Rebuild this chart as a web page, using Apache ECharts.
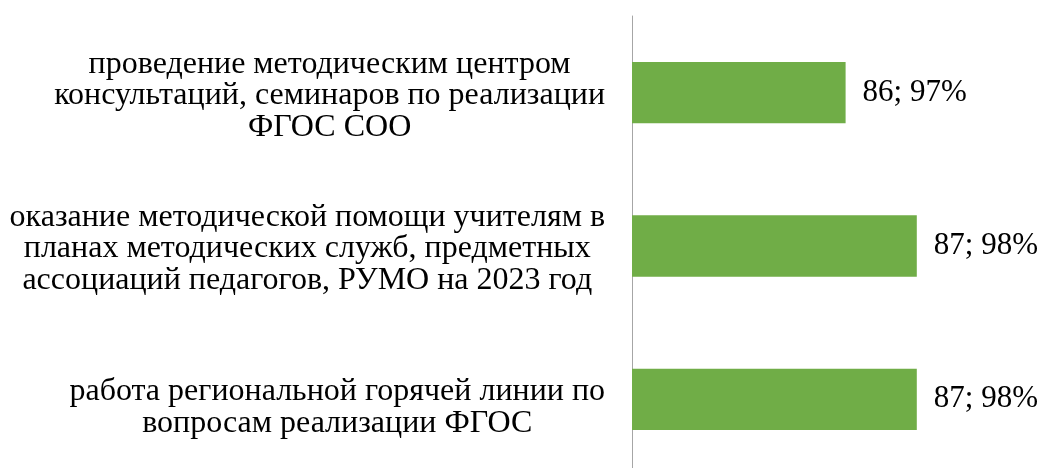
<!DOCTYPE html>
<html>
<head>
<meta charset="utf-8">
<script src="https://cdn.jsdelivr.net/npm/echarts@6/dist/echarts.min.js"></script>
<style>
  html, body { margin: 0; padding: 0; background: #fff; }
  #chart { width: 1040px; height: 468px; }
</style>
</head>
<body>
<div id="chart"></div>
<script>
// категории (сверху вниз), переносы строк как на исходной диаграмме
var categories = [
  'проведение методическим центром\nконсультаций, семинаров по реализации\nФГОС СОО',
  'оказание методической помощи учителям в\nпланах методических служб, предметных\nассоциаций педагогов, РУМО на 2023 год',
  'работа региональной горячей линии по\nвопросам реализации ФГОС'
]
var counts = [86, 87, 87]
var percents = [97, 98, 98]

var chartDom = echarts.init(document.getElementById('chart'))

chartDom.setOption({
  animation: false,
  grid: {
    left: 632,
    right: 52,
    top: 16,
    height: 460,
    containLabel: false,
    outerBoundsMode: 'none'
  },
  xAxis: {
    type: 'value',
    min: 83,
    max: 88,
    show: false
  },
  yAxis: {
    type: 'category',
    // последняя подпись в исходнике чуть ниже центра полосы
    data: categories.map(function (c, i) {
      return i === categories.length - 1 ? { value: c, textStyle: { padding: [17, 0, 0, 0] } } : c
    }),
    inverse: true,
    axisTick: { show: false },
    axisLine: {
      lineStyle: { color: '#a6a6a6', width: 1 }
    },
    axisLabel: {
      margin: 27,
      align: 'right',
      interval: 0,
      padding: [6, 0, 0, 0],
      formatter: function (v) {
        return v.split('\n').map(function (l) { return '{c|' + l + '}' }).join('\n')
      },
      rich: {
        c: {
          align: 'center',
          color: '#000',
          fontFamily: '"Liberation Serif", "Times New Roman", serif',
          fontSize: 32,
          lineHeight: 31.5
        }
      }
    }
  },
  series: [
    {
      type: 'bar',
      data: counts,
      barCategoryGap: '60%',
      itemStyle: { color: '#70ad47' },
      label: {
        show: true,
        position: 'right',
        distance: 17,
        color: '#000',
        fontFamily: '"Liberation Serif", "Times New Roman", serif',
        fontSize: 31,
        formatter: function (p) {
          return counts[p.dataIndex] + '; ' + percents[p.dataIndex] + '%'
        }
      }
    }
  ]
})
</script>
</body>
</html>
